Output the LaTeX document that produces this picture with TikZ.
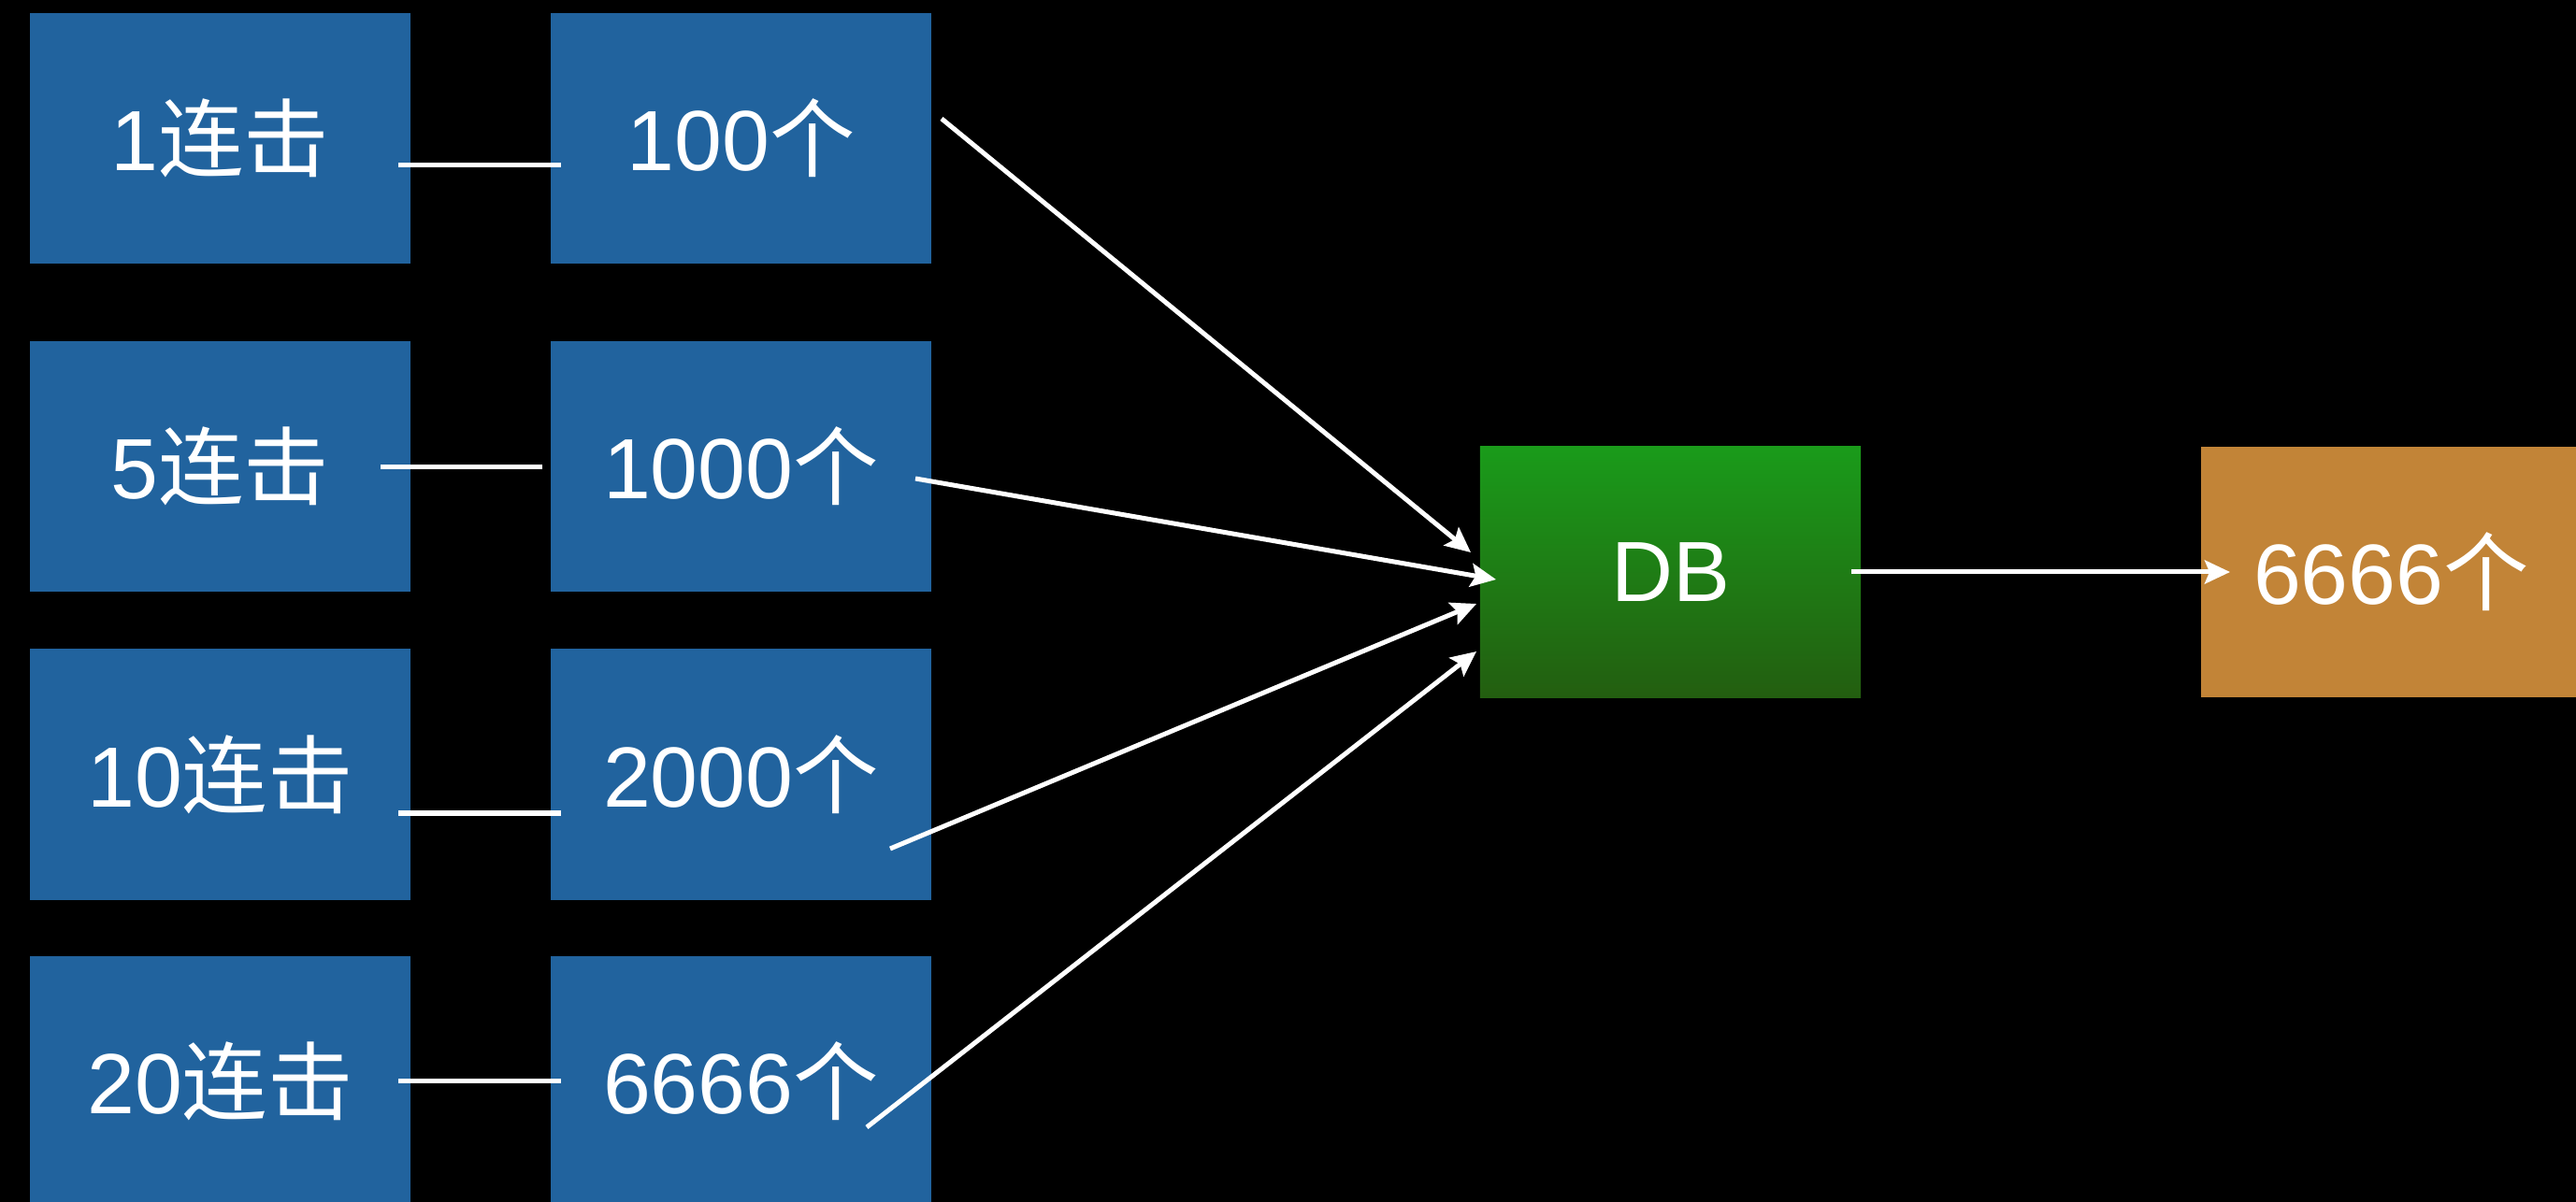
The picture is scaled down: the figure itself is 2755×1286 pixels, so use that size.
\documentclass[tikz,border=0pt]{standalone}
\usepackage{fontspec}
\setmainfont{Liberation Sans}
\newfontfamily\cjk{Noto Sans CJK SC}
\usetikzlibrary{arrows.meta}
\definecolor{boxblue}{RGB}{33,99,158}
\definecolor{dbtop}{RGB}{26,155,26}
\definecolor{dbbot}{RGB}{35,94,16}
\definecolor{boxorange}{RGB}{194,132,55}
\tikzset{
  card/.style={rectangle, inner sep=0pt, minimum width=4.07cm, minimum height=2.68cm,
    text=white, font=\fontsize{26}{30}\selectfont},
  bluebox/.style={card, fill=boxblue},
  dbbox/.style={card, top color=dbtop, bottom color=dbbot},
  orangebox/.style={card, fill=boxorange},
  link/.style={draw=white, line width=0.05cm},
  arr/.style={link, -{Stealth[length=0.27cm,width=0.25cm,inset=0.05cm]}},
}
\begin{document}
\begin{tikzpicture}[x=0.01cm,y=-0.01cm]
\fill[black] (0,0) rectangle (2755,1286);
\useasboundingbox (0,0) rectangle (2755,1286);
\begin{scope}
\clip (0,0) rectangle (2755,1286);
% left column
\node[bluebox] (c1) at (235.5,148) {1{\cjk 连击}};
\node[bluebox] (c5) at (235.5,499) {5{\cjk 连击}};
\node[bluebox] (c10) at (235.5,828.5) {10{\cjk 连击}};
\node[bluebox] (c20) at (235.5,1157) {20{\cjk 连击}};
% right column
\node[bluebox] (n100) at (792.5,148) {100{\cjk 个}};
\node[bluebox] (n1000) at (792.5,499) {1000{\cjk 个}};
\node[bluebox] (n2000) at (792.5,828.5) {2000{\cjk 个}};
\node[bluebox] (n6666) at (792.5,1157) {6666{\cjk 个}};
% DB and result
\node[dbbox] (db) at (1786.5,612) {DB};
\node[orangebox] (res) at (2557.5,612) {6666{\cjk 个}};
\end{scope}
% connector end points
\coordinate (l1a) at (426,177);  \coordinate (l1b) at (600,177);
\coordinate (l2a) at (407,500);  \coordinate (l2b) at (580,500);
\coordinate (l3a) at (426,870);  \coordinate (l3b) at (600,870);
\coordinate (l4a) at (426,1156); \coordinate (l4b) at (600,1156);
\draw[link] (l1a) -- (l1b);
\draw[link] (l2a) -- (l2b);
\draw[link] (l3a) -- (l3b);
\draw[link] (l4a) -- (l4b);
% arrows into DB
\coordinate (s1) at (1007,127);  \coordinate (t1) at (1573,591);
\coordinate (s2) at (979,512);   \coordinate (t2) at (1600,620);
\coordinate (s3) at (952,908);   \coordinate (t3) at (1579,646);
\coordinate (s4) at (927,1206);  \coordinate (t4) at (1579,697);
\draw[arr] (s1) -- (t1);
\draw[arr] (s2) -- (t2);
\draw[arr] (s3) -- (t3);
\draw[arr] (s4) -- (t4);
% DB to result
\coordinate (d1) at (1980,612); \coordinate (d2) at (2385,612);
\draw[arr] (d1) -- (d2);
\end{tikzpicture}
\end{document}
